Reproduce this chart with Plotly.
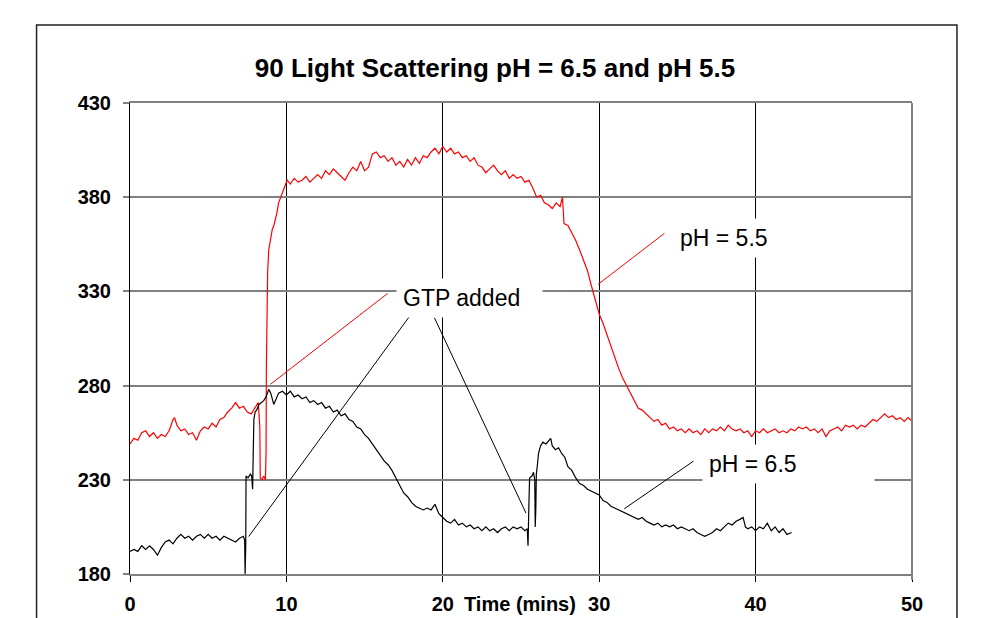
import plotly.graph_objects as go

title_text = "90 Light Scattering pH = 6.5 and pH 5.5"
x_title = "Time (mins)"
x_ticks = [0, 10, 20, 30, 40, 50]
y_ticks = [180, 230, 280, 330, 380, 430]

# pH 5.5 readings (time in mins, scattering)
ph55_readings = [
    (0, 249), (0.25, 252), (0.5, 251), (0.75, 255), (1.0, 256), (1.25, 253), (1.5, 255), (1.75, 252),
    (2.0, 254), (2.25, 253), (2.5, 256), (2.75, 262), (2.85, 263), (3.0, 259), (3.25, 256), (3.5, 257),
    (3.75, 254), (4.0, 255), (4.25, 251), (4.5, 256), (4.75, 258), (5.0, 257), (5.25, 260), (5.5, 258),
    (5.75, 262), (6.0, 263), (6.25, 266), (6.5, 268), (6.75, 271), (7.0, 268), (7.25, 269), (7.5, 266),
    (7.75, 265), (8.0, 268), (8.2, 271), (8.3, 258), (8.33, 231), (8.45, 230), (8.55, 232), (8.66, 230),
    (8.7, 245), (8.72, 290), (8.75, 330), (8.8, 340), (8.87, 352), (9.0, 358), (9.1, 363), (9.2, 365),
    (9.3, 368), (9.4, 372), (9.5, 377), (9.6, 379), (9.75, 382), (9.9, 385), (10.05, 389), (10.25, 387),
    (10.5, 390), (10.75, 388), (11.0, 389), (11.25, 391), (11.5, 388), (11.75, 390), (12.0, 392),
    (12.25, 390), (12.5, 394), (12.75, 392), (13.0, 395), (13.25, 393), (13.5, 391), (13.75, 389),
    (14.0, 393), (14.25, 396), (14.5, 394), (14.75, 399), (15.0, 394), (15.25, 396), (15.5, 403),
    (15.75, 404), (16.0, 401), (16.25, 402), (16.5, 399), (16.75, 401), (17.0, 397), (17.25, 399),
    (17.5, 396), (17.75, 400), (18.0, 397), (18.25, 401), (18.5, 398), (18.75, 402), (19.0, 401),
    (19.25, 404), (19.5, 406), (19.75, 403), (20.0, 407), (20.25, 404), (20.5, 406), (20.75, 403),
    (21.0, 404), (21.25, 401), (21.5, 402), (21.75, 399), (22.0, 401), (22.25, 397), (22.5, 396),
    (22.75, 393), (23.0, 395), (23.25, 397), (23.5, 394), (23.75, 392), (24.0, 394), (24.25, 390),
    (24.5, 392), (24.75, 390), (25.0, 391), (25.25, 388), (25.5, 389), (25.75, 385), (26.0, 380),
    (26.25, 381), (26.5, 377), (26.75, 376), (27.0, 374), (27.25, 377), (27.5, 375), (27.65, 380),
    (27.75, 366), (28.0, 365), (28.25, 361), (28.5, 357), (28.75, 352), (29.0, 347), (29.25, 341),
    (29.5, 333), (29.75, 326), (30.0, 318), (30.25, 313), (30.5, 307), (30.75, 300), (31.0, 294),
    (31.25, 289), (31.5, 284), (31.75, 280), (32.0, 276), (32.25, 272), (32.5, 268), (32.75, 267),
    (33.0, 265), (33.25, 263), (33.5, 261), (33.75, 262), (34.0, 259), (34.25, 260), (34.5, 257),
    (34.75, 258), (35.0, 256), (35.25, 257), (35.5, 255), (35.75, 257), (36.0, 255), (36.25, 256),
    (36.5, 254), (36.75, 257), (37.0, 255), (37.25, 257), (37.5, 256), (37.75, 258), (38.0, 256),
    (38.25, 259), (38.5, 257), (38.75, 256), (39.0, 257), (39.25, 255), (39.5, 256), (39.75, 253),
    (40.0, 256), (40.25, 255), (40.5, 257), (40.75, 255), (41.0, 256), (41.25, 257), (41.5, 255),
    (41.75, 256), (42.0, 255), (42.25, 257), (42.5, 256), (42.75, 258), (43.0, 257), (43.25, 258),
    (43.5, 256), (43.75, 257), (44.0, 255), (44.25, 257), (44.5, 253), (44.75, 256), (45.0, 257),
    (45.25, 258), (45.5, 256), (45.75, 259), (46.0, 258), (46.25, 259), (46.5, 257), (46.75, 259),
    (47.0, 258), (47.25, 260), (47.5, 262), (47.75, 261), (48.0, 263), (48.25, 265), (48.5, 263),
    (48.75, 264), (49.0, 262), (49.25, 263), (49.5, 261), (49.75, 263), (50.0, 261),
]

# pH 6.5 readings
ph65_readings = [
    (0, 192), (0.25, 193), (0.5, 192), (0.75, 195), (1.0, 193), (1.25, 195), (1.5, 193), (1.75, 190),
    (2.0, 194), (2.25, 197), (2.5, 198), (2.75, 196), (3.0, 199), (3.25, 201), (3.5, 199), (3.75, 200),
    (4.0, 198), (4.25, 200), (4.5, 201), (4.75, 199), (5.0, 201), (5.25, 199), (5.5, 200), (5.75, 198),
    (6.0, 200), (6.25, 199), (6.5, 198), (6.75, 197), (7.0, 199), (7.25, 200), (7.33, 198), (7.36, 180),
    (7.4, 195), (7.42, 232), (7.55, 231), (7.7, 233), (7.78, 232), (7.84, 225), (7.87, 240), (7.92, 262),
    (8.0, 266), (8.1, 267), (8.25, 270), (8.4, 271), (8.55, 272), (8.7, 274), (8.87, 278), (9.0, 276),
    (9.19, 270), (9.35, 273), (9.5, 276), (9.75, 277), (10.0, 275), (10.25, 277), (10.5, 274),
    (10.75, 275), (11.0, 273), (11.25, 274), (11.5, 271), (11.75, 272), (12.0, 270), (12.25, 271),
    (12.5, 268), (12.75, 269), (13.0, 266), (13.25, 267), (13.5, 264), (13.75, 265), (14.0, 262),
    (14.25, 261), (14.5, 258), (14.75, 257), (15.0, 254), (15.25, 252), (15.5, 249), (15.75, 246),
    (16.0, 243), (16.25, 240), (16.5, 238), (16.75, 235), (17.0, 231), (17.25, 227), (17.5, 223),
    (17.75, 221), (18.0, 218), (18.25, 216), (18.5, 215), (18.75, 214), (19.0, 215), (19.25, 214),
    (19.5, 217), (19.75, 212), (20.0, 210), (20.25, 208), (20.5, 207), (20.75, 209), (21.0, 206),
    (21.25, 207), (21.5, 205), (21.75, 206), (22.0, 204), (22.25, 205), (22.5, 203), (22.75, 205),
    (23.0, 203), (23.25, 204), (23.5, 202), (23.75, 204), (24.0, 205), (24.25, 203), (24.5, 205),
    (24.75, 204), (25.0, 205), (25.25, 203), (25.4, 204), (25.45, 195), (25.5, 215), (25.55, 231),
    (25.7, 232), (25.8, 234), (25.88, 230), (25.91, 205), (25.95, 215), (25.98, 233), (26.05, 238),
    (26.12, 244), (26.25, 248), (26.4, 250), (26.6, 249), (26.8, 251), (26.9, 252), (27.0, 248),
    (27.2, 246), (27.4, 247), (27.6, 244), (27.8, 242), (28.0, 237), (28.25, 235), (28.5, 231),
    (28.75, 228), (29.0, 227), (29.25, 225), (29.5, 224), (29.75, 223), (30.0, 222), (30.25, 219),
    (30.5, 218), (30.75, 216), (31.0, 215), (31.25, 214), (31.5, 213), (31.75, 212), (32.0, 211),
    (32.25, 210), (32.5, 209), (32.75, 210), (33.0, 208), (33.25, 207), (33.5, 206), (33.75, 207),
    (34.0, 205), (34.25, 206), (34.5, 205), (34.75, 206), (35.0, 204), (35.25, 205), (35.5, 204),
    (35.75, 203), (36.0, 204), (36.25, 202), (36.5, 201), (36.75, 200), (37.0, 201), (37.25, 202),
    (37.5, 204), (37.75, 203), (38.0, 205), (38.25, 207), (38.5, 206), (38.75, 208), (39.0, 209),
    (39.2, 210), (39.35, 205), (39.5, 204), (39.75, 205), (40.0, 203), (40.25, 205), (40.5, 204),
    (40.75, 207), (41.0, 203), (41.25, 205), (41.5, 202), (41.75, 204), (42.0, 201), (42.3, 202),
]

ph55_time = [p[0] for p in ph55_readings]
ph55_signal = [p[1] for p in ph55_readings]
ph65_time = [p[0] for p in ph65_readings]
ph65_signal = [p[1] for p in ph65_readings]

# callout labels (centre position in data units)
label_text = ["GTP added", "pH = 5.5", "pH = 6.5"]
label_x = [21.73, 39.43, 42.1]
label_y = [326.4, 358.3, 238.2]
label_w = [133, 133, 159]

# callout leader lines (start near label, end on curve)
callout_x0 = [16.47, 18.2, 19.46, 34.17, 36.03]
callout_y0 = [328.9, 320.5, 316.1, 360.8, 239.9]
callout_x1 = [8.98, 7.59, 25.32, 29.92, 31.6]
callout_y1 = [280.7, 199.9, 212.3, 333.7, 214.6]
callout_red = [True, False, False, True, False]

FONT = "Liberation Sans, Arial, sans-serif"

fig = go.Figure()
fig.add_trace(go.Scatter(x=ph55_time, y=ph55_signal, mode="lines",
                         line=dict(color="#ff0000", width=1.2), name="pH = 5.5"))
fig.add_trace(go.Scatter(x=ph65_time, y=ph65_signal, mode="lines",
                         line=dict(color="#000000", width=1.2), name="pH = 6.5"))

shapes = []
for x0, y0, x1, y1, red in zip(callout_x0, callout_y0, callout_x1, callout_y1, callout_red):
    shapes.append(dict(type="line", xref="x", yref="y", x0=x0, y0=y0, x1=x1, y1=y1,
                       line=dict(color="#ff0000" if red else "#000000", width=1)))
# right border of plot area (grey)
shapes.append(dict(type="line", xref="paper", yref="paper", x0=1, x1=1, y0=-0.012, y1=1,
                   line=dict(color="#808080", width=2)))
# outer chart frame
shapes.append(dict(type="rect", xref="paper", yref="paper", x0=-0.1195, x1=1.0575,
                   y0=-0.16, y1=1.1658, line=dict(color="#222222", width=1.5)))

annotations = []
for t, lx, ly, w in zip(label_text, label_x, label_y, label_w):
    annotations.append(dict(text=t, x=lx, y=ly, xref="x", yref="y", showarrow=False,
                            font=dict(family=FONT, size=23, color="#000000"),
                            bgcolor="#ffffff", width=w, height=26, borderpad=6,
                            align="left", valign="middle"))
annotations.append(dict(text=x_title, x=0.499, y=-0.0627, xref="paper", yref="paper",
                        showarrow=False, yanchor="middle", xanchor="center",
                        font=dict(family=FONT, size=20, color="#000000", weight="bold")))

fig.update_layout(
    width=997, height=618,
    margin=dict(l=130, r=85, t=103, b=44, autoexpand=False),
    paper_bgcolor="#ffffff", plot_bgcolor="#ffffff",
    showlegend=False,
    title=dict(text=title_text, x=0.4965, xref="container", xanchor="center",
               y=1 - 68 / 618, yref="container", yanchor="middle",
               font=dict(family=FONT, size=26, color="#000000", weight="bold")),
    shapes=shapes, annotations=annotations,
)
fig.update_xaxes(range=[0, 50], tickvals=x_ticks, ticktext=[str(v) for v in x_ticks],
                 automargin=False,
                 showgrid=True, gridcolor="#000000", gridwidth=1, zeroline=False,
                 showline=True, linecolor="#808080", linewidth=2, mirror=True,
                 ticks="outside", ticklen=6, tickcolor="#000000", tickwidth=1,
                 ticklabelstandoff=5,
                 tickfont=dict(family=FONT, size=20, color="#000000", weight="bold"))
fig.update_yaxes(range=[180, 430], tickvals=y_ticks, ticktext=[str(v) for v in y_ticks],
                 automargin=False,
                 showgrid=True, gridcolor="#808080", gridwidth=2, zeroline=False,
                 showline=True, linecolor="#000000", linewidth=1,
                 ticks="outside", ticklen=6, tickcolor="#808080", tickwidth=2,
                 ticklabelstandoff=8,
                 tickfont=dict(family=FONT, size=20, color="#000000", weight="bold"))

fig.write_html("out.html")
